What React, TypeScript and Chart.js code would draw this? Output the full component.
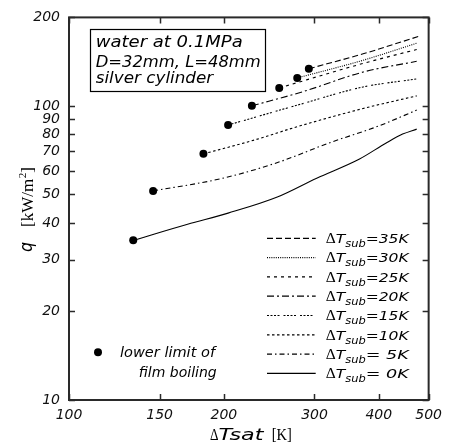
import React, { useEffect, useRef } from "react";
import { Chart, registerables } from "chart.js";

Chart.register(...registerables);

// ---- data ----
const xTickValues = [100, 150, 200, 300, 400, 500];
const yTickValues = [10, 20, 30, 40, 50, 60, 70, 80, 90, 100, 200];

const seriesNames = ["35K", "30K", "25K", "20K", "15K", "10K", " 5K", " 0K"];

const dT35 = [292.5, 373, 478];
const q35 = [133.8, 150.4, 172.3];
const dT30 = [277.7, 373, 476];
const q30 = [124.5, 143, 163.8];
const dT25 = [256.2, 373, 474];
const q25 = [115.1, 139.5, 155.6];
const dT20 = [226.7, 283.9, 373, 474];
const q20 = [100.1, 111.6, 130.4, 141.8];
const dT15 = [203.8, 277.7, 373, 474];
const q15 = [86.1, 100.6, 116, 123.5];
const dT10 = [182.5, 229.4, 277.7, 373, 474];
const q10 = [68.7, 76.6, 85.0, 98.0, 108.2];
const dT5 = [145.7, 198.5, 254.3, 321.4, 400.9, 474];
const q5 = [51.4, 56.7, 64.2, 75.0, 85.6, 96.8];
const dT0 = [133.3, 170, 203.8, 254, 303, 367, 413.5, 445, 474];
const q0 = [34.9, 39.6, 43.2, 49.0, 56.8, 66.0, 74.8, 80.2, 83.4];

const seriesX = [dT35, dT30, dT25, dT20, dT15, dT10, dT5, dT0];
const seriesY = [q35, q30, q25, q20, q15, q10, q5, q0];

// ---- styles ----
const dashes: number[][] = [
  [6, 3],
  [1, 1.2],
  [3, 4],
  [7, 3, 2, 3],
  [2, 1.5, 2, 1.5, 2, 1.5, 2, 4],
  [2.5, 2.5],
  [5, 3, 1.5, 3],
  [],
];

const SANS = "'DejaVu Sans'";
const SERIF = "'Liberation Serif'";

function fitText(ctx: CanvasRenderingContext2D, s: string, x: number, y: number, font: string, width?: number, align: "left" | "right" = "left") {
  ctx.save();
  ctx.font = font;
  const w = ctx.measureText(s).width;
  const sx = width ? width / w : 1;
  ctx.translate(x, y);
  ctx.scale(sx, 1);
  ctx.textAlign = align;
  ctx.textBaseline = "alphabetic";
  ctx.fillText(s, 0, 0);
  ctx.restore();
  return w * sx;
}

const overlay = {
  id: "overlay",
  afterDraw(chart: any) {
    const ctx: CanvasRenderingContext2D = chart.ctx;
    const { left, right, top, bottom } = chart.chartArea;
    const xs = chart.scales.x;
    const ys = chart.scales.y;
    ctx.save();
    ctx.fillStyle = "#000";
    ctx.strokeStyle = "#2a2a2a";
    // frame
    ctx.lineWidth = 2;
    ctx.strokeRect(left, top, right - left, bottom - top);
    // inward ticks
    ctx.lineWidth = 1.5;
    ctx.beginPath();
    for (const v of yTickValues) {
      const p = Math.round(ys.getPixelForValue(v)) + 0.5;
      ctx.moveTo(left, p);
      ctx.lineTo(left + 6, p);
      ctx.moveTo(right, p);
      ctx.lineTo(right - 6, p);
    }
    for (const v of xTickValues) {
      const p = Math.round(xs.getPixelForValue(v)) + 0.5;
      ctx.moveTo(p, bottom);
      ctx.lineTo(p, bottom - 6);
      ctx.moveTo(p, top);
      ctx.lineTo(p, top + 6);
    }
    ctx.stroke();

    // info box
    ctx.strokeStyle = "#000";
    ctx.lineWidth = 1.2;
    ctx.strokeRect(90.5, 29.5, 175, 62);
    ctx.fillStyle = "#000";
    fitText(ctx, "water at 0.1MPa", 95.7, 46.7, `italic 16px ${SANS}`, 147);
    fitText(ctx, "D=32mm, L=48mm", 95.7, 66.5, `italic 16px ${SANS}`, 165);
    fitText(ctx, "silver cylinder", 95.7, 83.3, `italic 16px ${SANS}`, 117.5);

    // note
    ctx.beginPath();
    ctx.arc(98, 352.3, 4, 0, Math.PI * 2);
    ctx.fill();
    fitText(ctx, "lower limit of", 120, 357.3, `italic 14px ${SANS}`, 95);
    fitText(ctx, "film boiling", 216.7, 376.7, `italic 14px ${SANS}`, undefined, "right");

    // legend
    for (let i = 0; i < seriesNames.length; i++) {
      const ly = 238.3 + i * 19.3;
      ctx.save();
      ctx.strokeStyle = "#000";
      ctx.lineWidth = 1.2;
      ctx.setLineDash(dashes[i]);
      ctx.beginPath();
      ctx.moveTo(267, ly);
      ctx.lineTo(315.7, ly);
      ctx.stroke();
      ctx.restore();
      const base = ly + 4.7;
      let x = 325.7;
      x += fitText(ctx, "\u0394", x, base, `14px ${SERIF}`, 10);
      x += fitText(ctx, "T", x, base, `italic 13px ${SANS}`, 9.5);
      x += fitText(ctx, "sub", x, base + 4, `italic 11px ${SANS}`, 20.5);
      fitText(ctx, "=" + seriesNames[i], x, base, `italic 13px ${SANS}`, 43);
    }

    // x title
    {
      const base = 440;
      let x = 210;
      x += fitText(ctx, "\u0394", x, base, `16px ${SERIF}`, 8.5);
      fitText(ctx, "Tsat", x, base, `italic 15px ${SANS}`, 45);
      fitText(ctx, "[K]", 271.7, base, `16px ${SERIF}`, 20);
    }
    // y title
    ctx.save();
    ctx.translate(33, 252);
    ctx.rotate(-Math.PI / 2);
    fitText(ctx, "q", 0, -1, `italic 17px ${SANS}`, 10);
    let tx = 25;
    tx += fitText(ctx, "[kW/m", tx, 0, `17px ${SERIF}`);
    tx += fitText(ctx, "2", tx + 0.5, -7, `11px ${SERIF}`) + 0.5;
    fitText(ctx, "]", tx, 0, `17px ${SERIF}`);
    ctx.restore();

    ctx.restore();
  },
};

export default function App() {
  const ref = useRef<HTMLCanvasElement | null>(null);
  useEffect(() => {
    if (!ref.current) return;
    const datasets = seriesX.map((xsArr, i) => ({
      label: "ΔTsub=" + seriesNames[i],
      data: xsArr.map((x, j) => ({ x, y: seriesY[i][j] })),
      borderColor: "#000",
      borderWidth: 1.1,
      borderDash: dashes[i],
      pointRadius: (c: any) => (c.dataIndex === 0 ? 4 : 0),
      pointBackgroundColor: "#000",
      pointBorderWidth: 0,
      cubicInterpolationMode: "monotone" as const,
      fill: false,
    }));
    const tickFont = { family: "DejaVu Sans", style: "italic" as const, size: 14 };
    const chart = new Chart(ref.current, {
      type: "line",
      data: { datasets },
      options: {
        animation: false,
        responsive: true,
        maintainAspectRatio: false,
        events: [],
        layout: { padding: { top: 15, right: 16, left: 0, bottom: 0 } },
        plugins: { legend: { display: false }, tooltip: { enabled: false } },
        scales: {
          x: {
            type: "logarithmic",
            min: 100,
            max: 500,
            grid: { display: false, drawTicks: false },
            border: { display: false },
            ticks: {
              autoSkip: false,
              maxRotation: 0,
              padding: 7,
              color: "#111",
              font: tickFont,
              callback: (v: any) => String(v),
            },
            afterBuildTicks: (s: any) => {
              s.ticks = xTickValues.map((v) => ({ value: v }));
            },
            afterFit: (s: any) => {
              s.height = 46;
            },
          },
          y: {
            type: "logarithmic",
            min: 10,
            max: 200,
            grid: { display: false, drawTicks: false },
            border: { display: false },
            ticks: {
              autoSkip: false,
              padding: 9,
              color: "#111",
              font: tickFont,
              callback: (v: any) => String(v),
            },
            afterBuildTicks: (s: any) => {
              s.ticks = yTickValues.map((v) => ({ value: v }));
            },
            afterFit: (s: any) => {
              s.width = 69;
            },
          },
        },
      },
      plugins: [overlay],
    });
    return () => chart.destroy();
  }, []);
  return (
    <div style={{ position: "fixed", left: 0, top: 0, width: 449, height: 446, background: "#fff" }}>
      <canvas ref={ref} />
    </div>
  );
}
